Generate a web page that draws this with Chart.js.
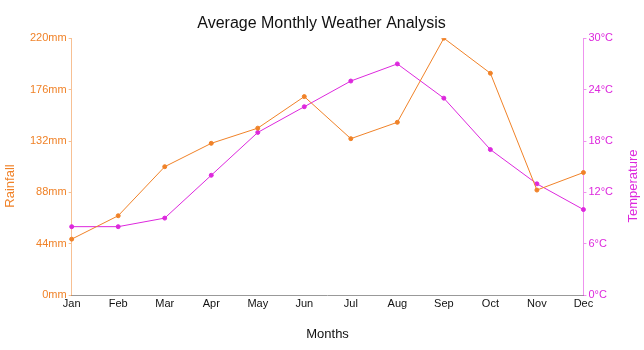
<!DOCTYPE html>
<html>
<head>
<meta charset="utf-8">
<script src="https://cdn.jsdelivr.net/npm/chart.js@4/dist/chart.umd.min.js"></script>
<style>
  html, body { margin: 0; padding: 0; background: #fff; }
  #wrap { width: 644px; height: 350px; }
</style>
</head>
<body>
<div id="wrap"><canvas id="weather" width="644" height="350"></canvas></div>
<script>
var months = ['Jan', 'Feb', 'Mar', 'Apr', 'May', 'Jun', 'Jul', 'Aug', 'Sep', 'Oct', 'Nov', 'Dec'];
var rainfall = [48, 68, 110, 130, 143, 170, 134, 148, 220, 190, 90, 105];
var temperature = [8, 8, 9, 14, 19, 22, 25, 27, 23, 17, 13, 10];

var orange = 'rgb(240,130,40)';
var magenta = 'rgb(221,40,221)';

Chart.defaults.font.family = '"Liberation Sans", Arial, sans-serif';

// both side titles read bottom-to-top, so draw them by hand
var sideTitles = {
    id: 'sideTitles',
    afterDraw: function (chart) {
        var c = chart.ctx;
        var midY = 186;
        c.save();
        c.font = '13px "Liberation Sans", Arial, sans-serif';
        c.textAlign = 'center';
        c.textBaseline = 'middle';
        [[10, 'Rainfall', orange], [633, 'Temperature', magenta]].forEach(function (t) {
            c.save();
            c.translate(t[0], midY);
            c.rotate(-Math.PI / 2);
            c.fillStyle = t[2];
            c.fillText(t[1], 0, 0);
            c.restore();
        });
        c.restore();
    }
};

var ctx = document.getElementById('weather').getContext('2d');
var weatherChart = new Chart(ctx, {
    type: 'line',
    data: {
        labels: months,
        datasets: [{
            label: 'Rainfall',
            data: rainfall,
            yAxisID: 'yRain',
            borderColor: orange,
            backgroundColor: orange,
            borderWidth: 1,
            pointRadius: 2,
            pointHoverRadius: 3,
            tension: 0
        }, {
            label: 'Temperature',
            data: temperature,
            yAxisID: 'yTemp',
            borderColor: magenta,
            backgroundColor: magenta,
            borderWidth: 1,
            pointRadius: 2,
            pointHoverRadius: 3,
            tension: 0
        }]
    },
    options: {
        responsive: false,
        animation: false,
        layout: {
            padding: { left: 28, right: 29, top: 0, bottom: 8 }
        },
        plugins: {
            legend: { display: false },
            tooltip: { enabled: false },
            title: {
                display: true,
                text: 'Average Monthly Weather Analysis',
                color: '#111',
                font: { size: 16, weight: 'normal' },
                padding: { top: 14, bottom: 5 }
            }
        },
        scales: {
            x: {
                offset: false,
                grid: { display: false, drawTicks: false },
                border: { display: true, color: '#999' },
                ticks: { color: '#111', font: { size: 11 }, padding: 2, maxRotation: 0 },
                title: {
                    display: true,
                    text: 'Months',
                    color: '#111',
                    font: { size: 13 },
                    padding: { top: 14, bottom: 0 }
                }
            },
            yRain: {
                type: 'linear',
                position: 'left',
                min: 0,
                max: 220,
                grid: { drawOnChartArea: false, color: 'rgba(240,130,40,0.5)', tickLength: 3 },
                border: { color: 'rgba(240,130,40,0.5)' },
                ticks: {
                    stepSize: 44,
                    color: orange,
                    font: { size: 11 },
                    padding: 2,
                    callback: function (v) { return v + 'mm'; }
                }
            },
            yTemp: {
                type: 'linear',
                position: 'right',
                min: 0,
                max: 30,
                grid: { drawOnChartArea: false, color: 'rgba(221,40,221,0.5)', tickLength: 3 },
                border: { color: 'rgba(221,40,221,0.5)' },
                ticks: {
                    stepSize: 6,
                    color: magenta,
                    font: { size: 11 },
                    padding: 2,
                    callback: function (v) { return v + '°C'; }
                }
            }
        }
    },
    plugins: [sideTitles]
});
</script>
</body>
</html>
